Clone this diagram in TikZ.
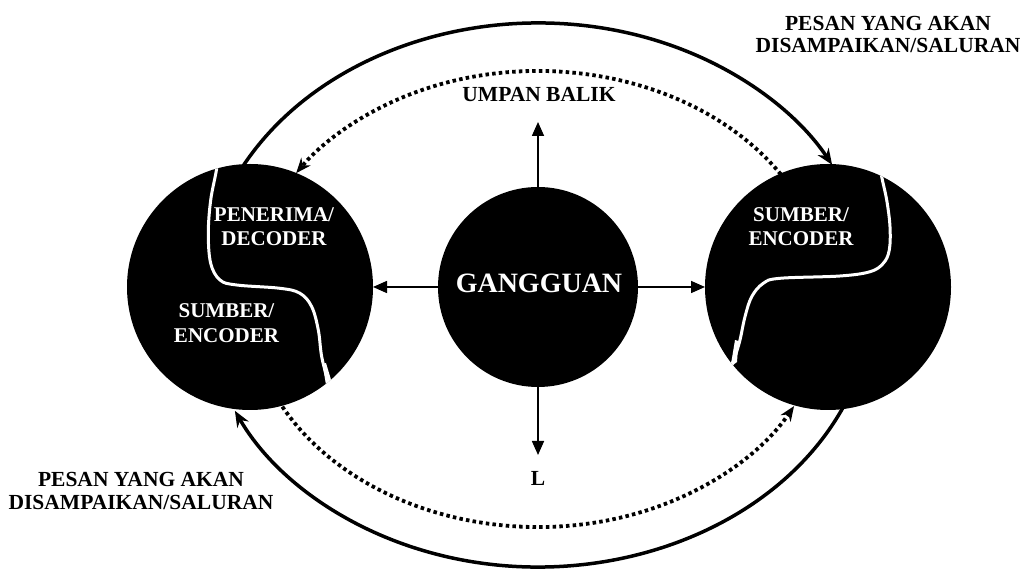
\documentclass[tikz,border=0pt]{standalone}
\usepackage{fontspec}
\setmainfont{Liberation Serif}
\usetikzlibrary{arrows.meta}
\begin{document}
\begin{tikzpicture}[x=1pt,y=1pt,
  blob/.style={circle,fill=black,inner sep=0pt,outer sep=0pt},
  outerarc/.style={line width=3.5pt,-{Stealth[length=16pt,width=13pt]}},
  dotarc/.style={line width=3.8pt,dash pattern=on 3.5pt off 3.2pt,-{Stealth[length=15pt,width=12pt]}},
  carrow/.style={line width=1.6pt,-{Triangle[length=14pt,width=12pt]}},
  lab/.style={font=\fontsize{21.5}{22.5}\selectfont\bfseries,inner sep=0pt,align=center},
  inlab/.style={font=\fontsize{21}{24.5}\selectfont\bfseries,text=white,inner sep=0pt,align=center},
  wline/.style={draw=white,line width=3pt}]
\fill[white] (0,0) rectangle (1021,573);
\useasboundingbox (0,0) rectangle (1021,573);
\coordinate (E) at (538,278);
\coordinate (D) at (538,274);
% outer solid arcs
\draw[outerarc] ([shift={(153:335pt and 272pt)}]E) arc[start angle=153,end angle=28.6,x radius=335pt,y radius=272pt];
\draw[outerarc] ([shift={(-22:335pt and 272pt)}]E) arc[start angle=-22,end angle=-154.8,x radius=335pt,y radius=272pt];
% dotted arcs
\draw[dotarc] ([shift={(30:290pt and 228pt)}]D) arc[start angle=30,end angle=146.5,x radius=290pt,y radius=228pt];
\draw[dotarc] ([shift={(205:290pt and 228pt)}]D) arc[start angle=205,end angle=332,x radius=290pt,y radius=228pt];
% circles
\node[blob,minimum size=246pt] (L) at (250,286) {};
\node[blob,minimum size=200pt] (C) at (538,286) {};
\node[blob,minimum size=246pt] (R) at (828,286) {};
% white dividing curves
\begin{scope}
\clip (250,286) circle[radius=123pt];
\draw[wline] plot[smooth,tension=0.6] coordinates {(218,425) (216.7,404.7) (210.7,373) (208.3,339.7) (210.7,309.7) (220,293) (236.7,288) (280,284.7) (300,279.7) (311.7,266.3) (318.3,243) (321.7,216.3) (328.3,189.7) (331,175)};
\fill[white] (322.5,209) -- (326,210) -- (332,190) -- (326,188) -- cycle;
\end{scope}
\begin{scope}
\clip (828,286) circle[radius=123pt];
\draw[wline] plot[smooth,tension=0.6] coordinates {(879,415) (881.7,396.3) (886.7,373) (890,346.3) (889.3,323) (883.3,309.7) (870,301.3) (840,297) (780,294.7) (763.3,289.7) (751.7,276.3) (745,256.3) (740,233) (735,216.3) (731.7,208) (728,195)};
\fill[white] (735,233) -- (738.5,232) -- (737,211) -- (730.5,206) -- cycle;
\end{scope}
% arrows from GANGGUAN
\coordinate (upTip) at (538,451);
\coordinate (downTip) at (538,118);
\draw[carrow] (C.north) -- (upTip);
\draw[carrow] (C.south) -- (downTip);
\draw[carrow] (C.west) -- (L.east);
\draw[carrow] (C.east) -- (R.west);
% texts
\node[font=\fontsize{28}{30}\selectfont\bfseries,text=white,inner sep=0pt] (g) at (539,290) {GANGGUAN};
\node[inlab] (pd) at (274,346.5) {PENERIMA/\\DECODER};
\node[inlab] (se1) at (226.5,250) {SUMBER/\\ENCODER};
\node[inlab] (se2) at (801,346.5) {SUMBER/\\ENCODER};
\node[lab] (ub) at (539,478) {UMPAN BALIK};
\node[lab] (ll) at (538,95) {L};
\node[lab] (p1) at (141,82) {PESAN YANG AKAN\\DISAMPAIKAN/SALURAN};
\node[lab] (p2) at (888,538.5) {PESAN YANG AKAN\\DISAMPAIKAN/SALURAN};
\end{tikzpicture}
\end{document}
